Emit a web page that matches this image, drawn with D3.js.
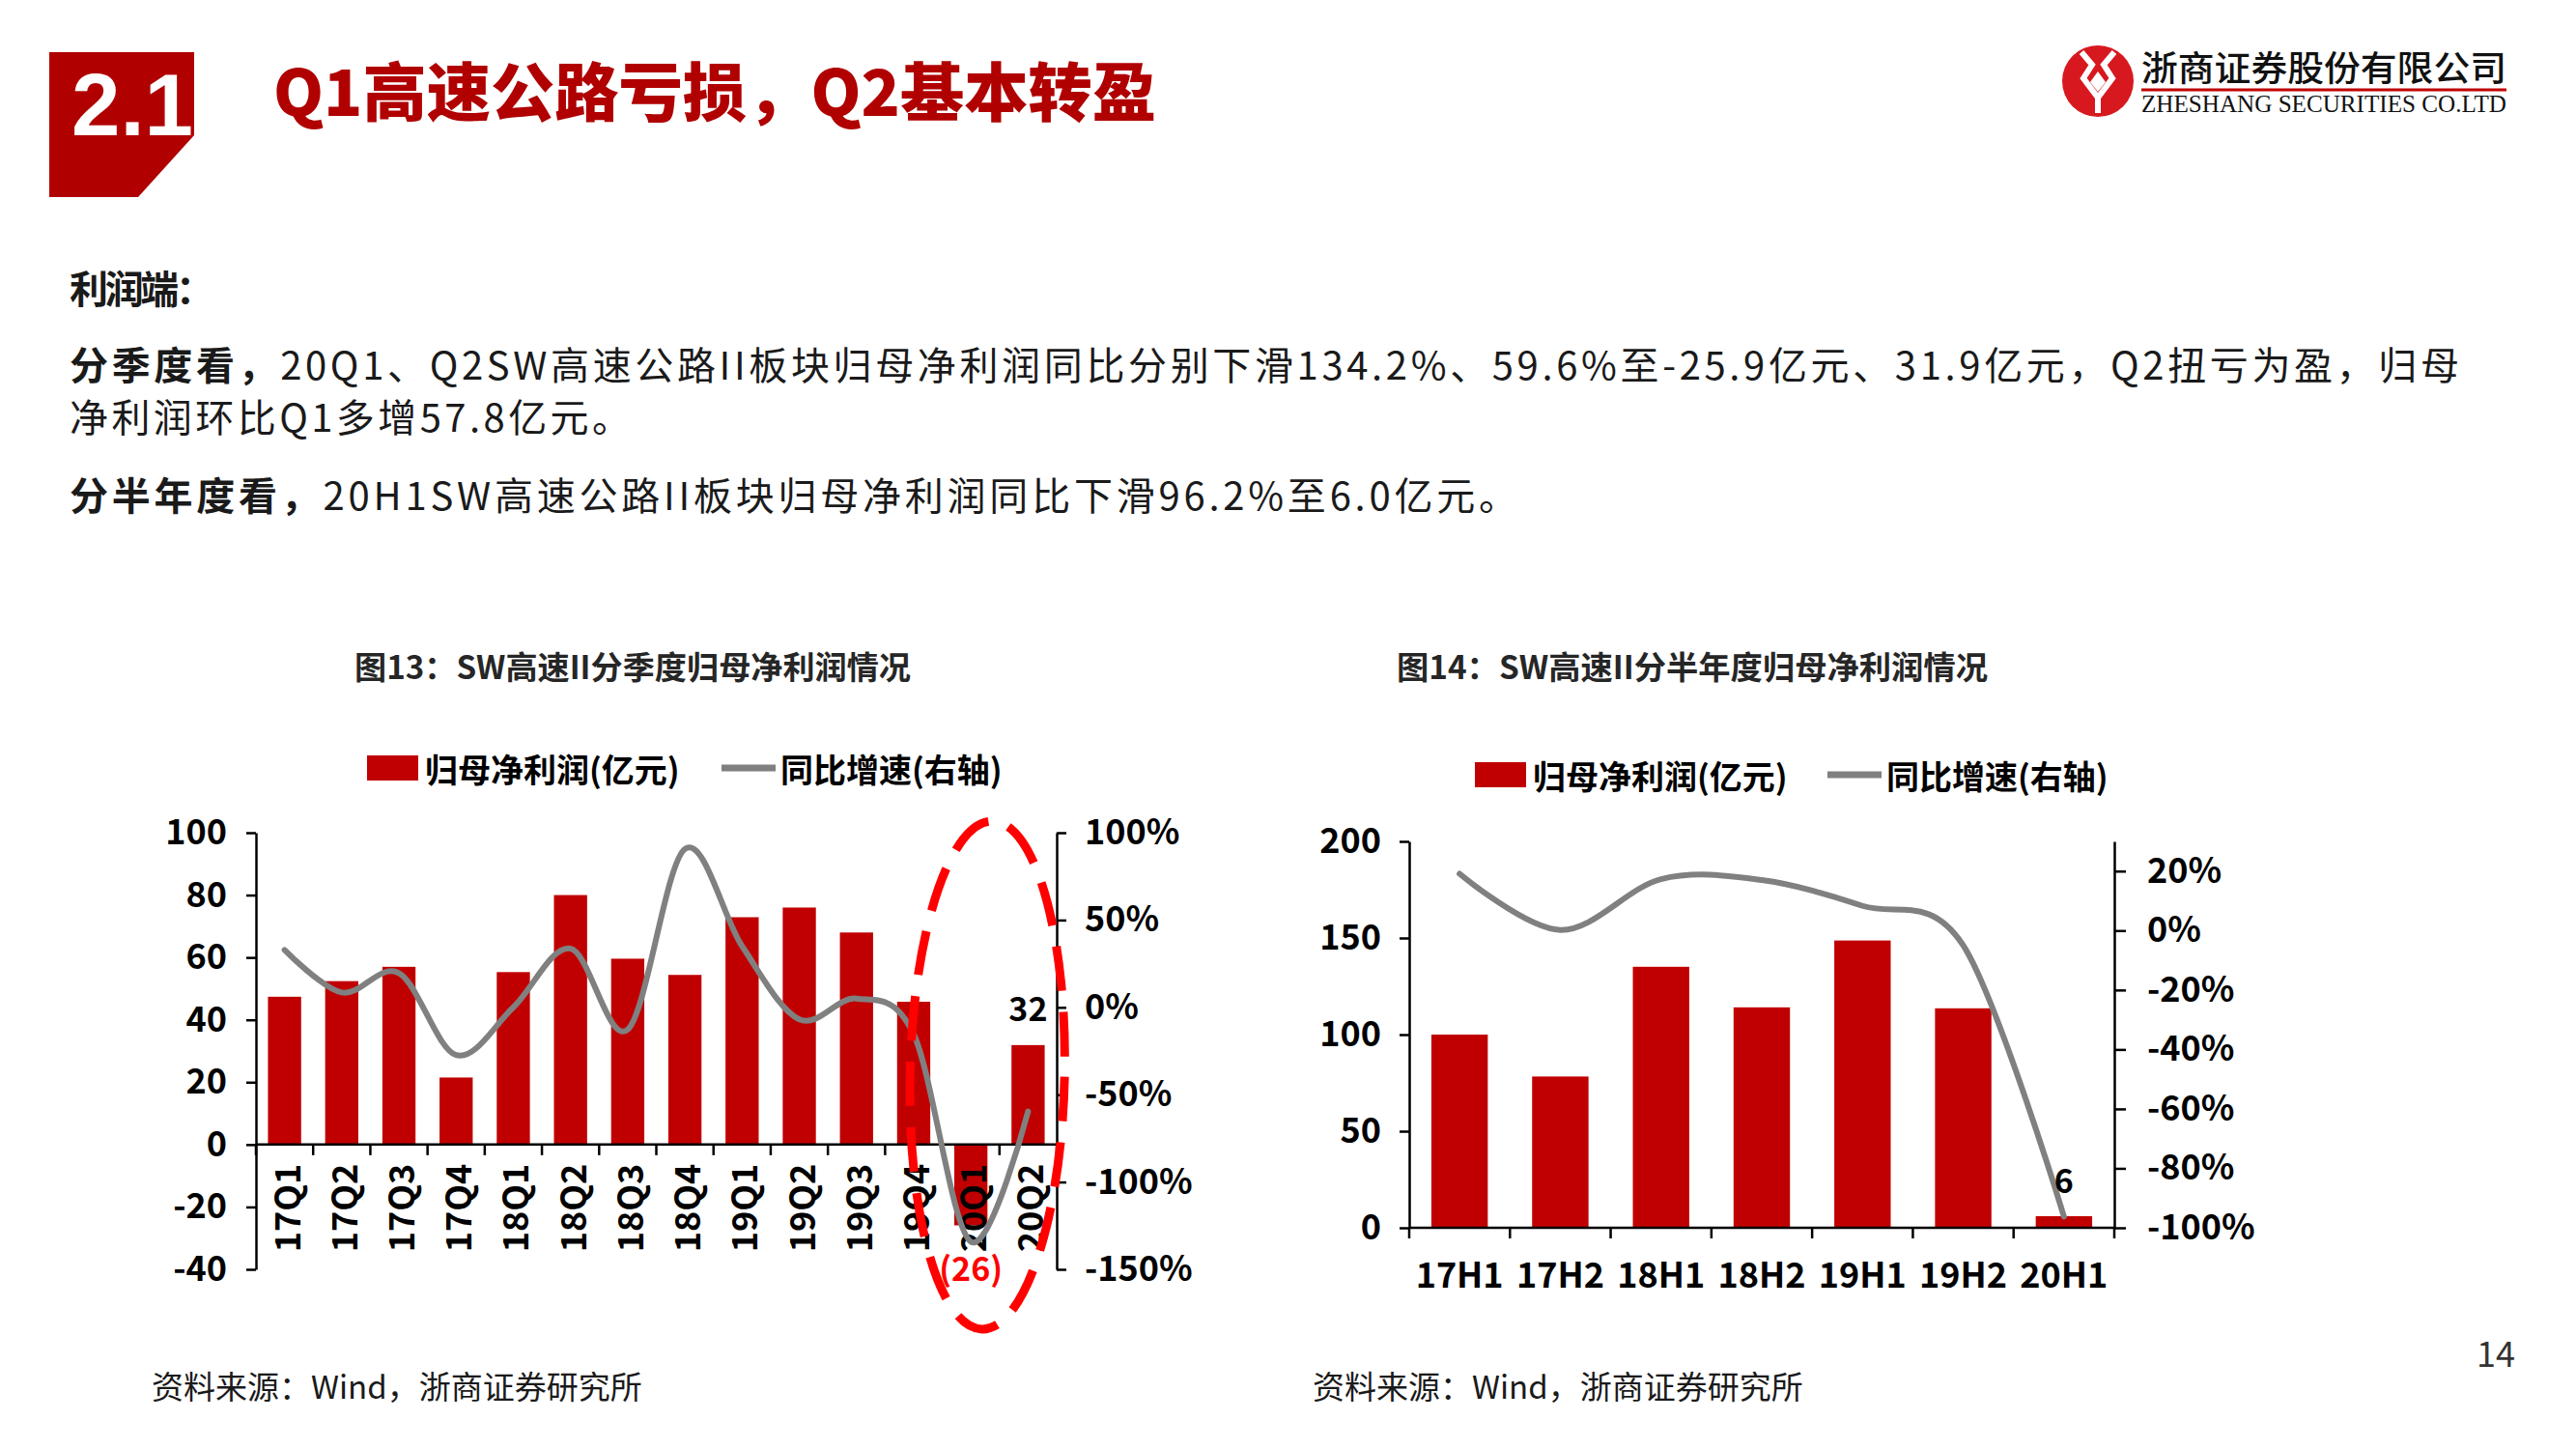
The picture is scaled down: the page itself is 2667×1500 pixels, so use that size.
<!doctype html>
<html>
<head>
<meta charset="utf-8">
<title>Q1高速公路亏损，Q2基本转盈</title>
<style>
  body { margin: 0; background: #fff; }
  svg text { font-family: "Noto Sans CJK SC", "Noto Sans", sans-serif; }
</style>
</head>
<body>
<svg width="2667" height="1500"></svg>
<script src="https://cdn.jsdelivr.net/npm/d3@7/dist/d3.min.js"></script>
<script>
// Chart 13: quarterly net profit (亿元) and yoy growth (%)
var quarters = ['17Q1', '17Q2', '17Q3', '17Q4', '18Q1', '18Q2', '18Q3', '18Q4',
  '19Q1', '19Q2', '19Q3', '19Q4', '20Q1', '20Q2'];
var quarterProfit = [47.4, 52.4, 57.0, 21.5, 55.3, 80.0, 59.6, 54.4, 72.9, 76.0, 68.0, 45.8, -25.9, 31.9];
var quarterYoY = [32.9, 8.5, 19.6, -27.3, 0, 33.7, -12.7, 90.7, 35, -6.9, 5.0, -15.4, -134.2, -59.6];
var quarterLeftTicks = [100, 80, 60, 40, 20, 0, -20, -40];
var quarterRightTicks = [100, 50, 0, -50, -100, -150];

// Chart 14: half-year net profit and yoy growth
var halves = ['17H1', '17H2', '18H1', '18H2', '19H1', '19H2', '20H1'];
var halfProfit = [100.0, 78.3, 135.1, 114.1, 148.7, 113.6, 6.0];
var halfYoY = [19.1, 0.2, 17.3, 17.0, 8.3, -5.0, -96.2];
var halfLeftTicks = [200, 150, 100, 50, 0];
var halfRightTicks = [20, 0, -20, -40, -60, -80, -100];

var RED = '#c00000', GRAY = '#808080';
var svg = d3.select('svg');
svg.append('rect').attr('width', 2667).attr('height', 1500).attr('fill', '#fff');

// ---- page header ----
svg.append('path').attr('d', 'M51,54H201V140L143,204H51Z').attr('fill', '#b00000');
svg.append('text').attr('x', 74).attr('y', 140)
  .style('font-family', '"Liberation Sans", Arial, sans-serif')
  .attr('font-size', 90).attr('font-weight', 700).attr('fill', '#fff')
  .attr('textLength', 126).attr('lengthAdjust', 'spacingAndGlyphs')
  .text('2.1');
svg.append('text').attr('x', 283).attr('y', 120)
  .attr('font-size', 66).attr('font-weight', 900).attr('fill', '#b00000')
  .attr('textLength', 914).attr('lengthAdjust', 'spacingAndGlyphs')
  .text('Q1高速公路亏损，Q2基本转盈');

// logo
var logo = svg.append('g').attr('transform', 'translate(2172,84)');
logo.append('circle').attr('r', 37).attr('fill', '#d7191f');
logo.append('path')
  .attr('d', 'M-17,-30 L-6,-17 L-15,-3 L0,17 L15,-3 L6,-17 L17,-30 M0,17 L0,33')
  .attr('fill', 'none').attr('stroke', '#fff').attr('stroke-width', 6).attr('stroke-linejoin', 'miter');
logo.append('path').attr('d', 'M0,-10 L8,1 L0,11 L-8,1 Z').attr('fill', '#fff');
svg.append('text').attr('x', 2217).attr('y', 84)
  .attr('font-size', 36).attr('font-weight', 500).attr('fill', '#111')
  .attr('textLength', 378).attr('lengthAdjust', 'spacingAndGlyphs')
  .text('浙商证券股份有限公司');
svg.append('line').attr('x1', 2217).attr('x2', 2595).attr('y1', 93).attr('y2', 93)
  .attr('stroke', '#c00000').attr('stroke-width', 3);
svg.append('text').attr('x', 2217).attr('y', 116)
  .style('font-family', '"Liberation Serif", serif')
  .attr('font-size', 25).attr('fill', '#111')
  .attr('textLength', 378).attr('lengthAdjust', 'spacingAndGlyphs')
  .text('ZHESHANG SECURITIES CO.LTD');

// ---- body text ----
function para(y, parts, len) {
  var t = svg.append('text').attr('x', 72).attr('y', y)
    .attr('dominant-baseline', 'central').attr('font-size', 40).attr('fill', '#1a1a1a');
  if (len) t.attr('textLength', len).attr('lengthAdjust', 'spacing');
  parts.forEach(function(p) {
    t.append('tspan').attr('font-weight', p[1] ? 700 : 400).text(p[0]);
  });
}
para(297, [['利润端：', true]], 150);
para(376, [['分季度看，', true],
  ['20Q1、Q2SW高速公路II板块归母净利润同比分别下滑134.2%、59.6%至-25.9亿元、31.9亿元，Q2扭亏为盈，归母', false]], 2474);
para(430, [['净利润环比Q1多增57.8亿元。', false]], 581);
para(511, [['分半年度看，', true], ['20H1SW高速公路II板块归母净利润同比下滑96.2%至6.0亿元。', false]], 1499);

// ---- charts ----
function drawChart(o) {
  var g = svg.append('g');
  var x = d3.scaleBand().domain(o.cats).range([o.x0, o.x1])
    .paddingInner(o.pad).paddingOuter(o.pad / 2);
  var yL = d3.scaleLinear().domain(o.leftDomain).range([o.yBottom, o.yTop]);
  var yR = d3.scaleLinear().domain(o.rightDomain).range([o.yBottom, o.yTop]);
  var zeroY = yL(0);

  // title
  g.append('text').attr('x', o.titleX).attr('y', 689)
    .attr('dominant-baseline', 'central').attr('font-size', 33).attr('font-weight', 700)
    .attr('textLength', o.titleLen).attr('lengthAdjust', 'spacingAndGlyphs')
    .attr('fill', '#262626').text(o.title);

  // legend
  var lg = g.append('g').attr('transform', 'translate(' + o.legendX + ',' + o.legendY + ')')
    .attr('font-size', 34).attr('font-weight', 700);
  lg.append('rect').attr('x', 0).attr('y', -13).attr('width', 53).attr('height', 26).attr('fill', RED);
  lg.append('text').attr('x', 60).attr('dominant-baseline', 'central').text('归母净利润(亿元)');
  lg.append('line').attr('x1', o.legendGap).attr('x2', o.legendGap + 56)
    .attr('stroke', GRAY).attr('stroke-width', 7);
  lg.append('text').attr('x', o.legendGap + 61).attr('dominant-baseline', 'central').text('同比增速(右轴)');

  // bars
  g.selectAll('rect.bar').data(o.bars).join('rect').attr('class', 'bar')
    .attr('x', function(d, i) { return x(o.cats[i]); })
    .attr('width', x.bandwidth())
    .attr('y', function(d) { return Math.min(yL(d), zeroY); })
    .attr('height', function(d) { return Math.abs(yL(d) - zeroY); })
    .attr('fill', RED);

  // axes (plain hyphen for negatives, as in the source)
  var axL = g.append('g').attr('transform', 'translate(' + o.x0 + ',0)')
    .call(d3.axisLeft(yL).tickValues(o.leftTicks).tickSize(10).tickSizeOuter(0).tickPadding(o.leftPad)
      .tickFormat(function(d) { return String(d); }));
  var axR = g.append('g').attr('transform', 'translate(' + o.x1 + ',0)')
    .call(d3.axisRight(yR).tickValues(o.rightTicks).tickSize(o.rightTick).tickSizeOuter(0).tickPadding(o.rightPad)
      .tickFormat(function(d) { return d + '%'; }));
  [axL, axR].forEach(function(ax) {
    ax.select('.domain').attr('stroke', '#000').attr('stroke-width', 2.5);
    ax.selectAll('.tick line').attr('stroke', '#000').attr('stroke-width', 2.5);
    ax.selectAll('.tick text').attr('font-size', 36).attr('font-weight', 700).attr('fill', '#000')
      .style('font-family', '"Noto Sans CJK SC", sans-serif');
  });

  // category axis at zero
  g.append('line').attr('x1', o.x0).attr('x2', o.x1).attr('y1', zeroY).attr('y2', zeroY)
    .attr('stroke', '#000').attr('stroke-width', 2.5);
  g.selectAll('line.ctick').data(d3.range(o.cats.length + 1)).join('line').attr('class', 'ctick')
    .attr('x1', function(i) { return o.x0 + i * x.step(); })
    .attr('x2', function(i) { return o.x0 + i * x.step(); })
    .attr('y1', zeroY).attr('y2', zeroY + 11)
    .attr('stroke', '#000').attr('stroke-width', 2.5);
  var cx = function(c) { return x(c) + x.bandwidth() / 2; };
  var lab = g.selectAll('text.cat').data(o.cats).join('text').attr('class', 'cat')
    .attr('font-size', 36).attr('font-weight', 700).attr('fill', '#000')
    .attr('dominant-baseline', 'central').text(function(d) { return d; });
  if (o.rotate) {
    lab.attr('text-anchor', 'end')
      .attr('transform', function(d) { return 'translate(' + cx(d) + ',' + (zeroY + 20) + ') rotate(-90)'; });
  } else {
    lab.attr('text-anchor', 'middle').attr('x', cx).attr('y', o.catY);
  }

  // yoy line
  var line = d3.line()
    .x(function(d, i) { return cx(o.cats[i]); })
    .y(function(d) { return yR(d); })
    .curve(d3.curveCatmullRom.alpha(0));
  g.append('path').datum(o.yoy).attr('d', line)
    .attr('fill', 'none').attr('stroke', GRAY).attr('stroke-width', 6).attr('stroke-linecap', 'round');

  return { g: g, x: x, yL: yL, yR: yR, cx: cx, zeroY: zeroY };
}

var c1 = drawChart({
  cats: quarters, bars: quarterProfit, yoy: quarterYoY,
  x0: 265, x1: 1094, yTop: 862, yBottom: 1314, pad: 0.42,
  leftDomain: [-40, 100], rightDomain: [-150, 100],
  leftTicks: quarterLeftTicks, rightTicks: quarterRightTicks, leftPad: 20,
  rightTick: 10, rightPad: 19,
  rotate: true, title: '图13：SW高速II分季度归母净利润情况', titleX: 367, titleLen: 576,
  legendX: 380, legendY: 795, legendGap: 367
});
// data labels
c1.g.append('text').attr('x', c1.cx('20Q2')).attr('y', c1.yL(31.9) - 39)
  .attr('text-anchor', 'middle').attr('dominant-baseline', 'central')
  .attr('font-size', 34).attr('font-weight', 700).text('32');
c1.g.append('text').attr('x', c1.cx('20Q1')).attr('y', c1.yL(-40) - 3)
  .attr('text-anchor', 'middle').attr('dominant-baseline', 'central')
  .attr('font-size', 34).attr('font-weight', 700).attr('fill', '#ff0000').text('(26)');
// highlight ellipse
c1.g.append('ellipse')
  .attr('transform', 'translate(' + (c1.cx('20Q1') + 17) + ',1113) rotate(1.2)')
  .attr('rx', 80).attr('ry', 263)
  .attr('fill', 'none').attr('stroke', '#ff0000').attr('stroke-width', 9)
  .attr('stroke-dasharray', '46 22');

var c2 = drawChart({
  cats: halves, bars: halfProfit, yoy: halfYoY,
  x0: 1459, x1: 2189, yTop: 871, yBottom: 1271, pad: 0.44,
  leftDomain: [0, 200], rightDomain: [-100, 30],
  leftTicks: halfLeftTicks, rightTicks: halfRightTicks, leftPad: 19,
  rightTick: 12, rightPad: 22,
  rotate: false, catY: 1317, title: '图14：SW高速II分半年度归母净利润情况', titleX: 1446, titleLen: 612,
  legendX: 1527, legendY: 802, legendGap: 365
});
c2.g.append('text').attr('x', c2.cx('20H1')).attr('y', c2.yL(6.0) - 39)
  .attr('text-anchor', 'middle').attr('dominant-baseline', 'central')
  .attr('font-size', 34).attr('font-weight', 700).text('6');

// ---- footer ----
[157, 1359].forEach(function(fx) {
  svg.append('text').attr('x', fx).attr('y', 1434).attr('dominant-baseline', 'central')
    .attr('font-size', 33).attr('fill', '#1a1a1a').text('资料来源：Wind，浙商证券研究所');
});
svg.append('text').attr('x', 2584).attr('y', 1399).attr('text-anchor', 'middle')
  .attr('dominant-baseline', 'central').attr('font-size', 36).attr('fill', '#333').text('14');
</script>
</body>
</html>
